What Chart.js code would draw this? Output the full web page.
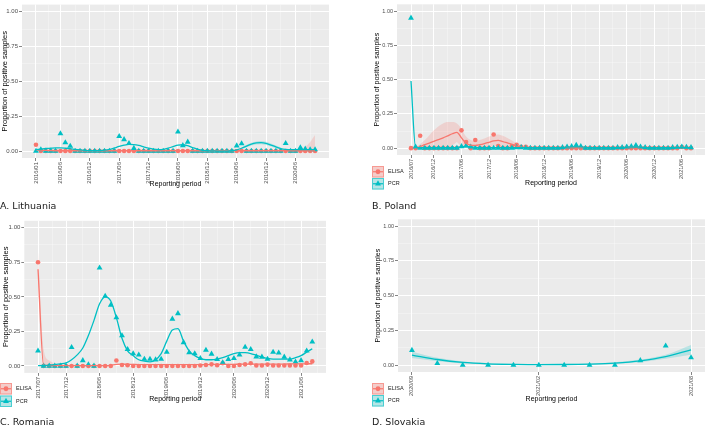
<!DOCTYPE html>
<html>
<head>
<meta charset="utf-8">
<script src="https://cdn.jsdelivr.net/npm/chart.js@4.4.1/dist/chart.umd.min.js"></script>
<style>
    html, body { margin: 0; padding: 0; background: #fff; }
    #wrap { position: relative; width: 709px; height: 430px; overflow: hidden; }
    canvas { position: absolute; }
    .caption {
        position: absolute;
        font-family: "DejaVu Sans", sans-serif;
        font-size: 9.5px;
        line-height: 10px;
        color: #1a1a1a;
        white-space: nowrap;
    }
</style>
</head>
<body>
<div id="wrap">
    <canvas id="chartA" width="355" height="215" style="left:0;top:0"></canvas>
    <canvas id="chartB" width="354" height="215" style="left:355px;top:0"></canvas>
    <canvas id="chartC" width="355" height="215" style="left:0;top:215px"></canvas>
    <canvas id="chartD" width="354" height="215" style="left:355px;top:215px"></canvas>
    <div class="caption" style="left:0;top:201px">A. Lithuania</div>
    <div class="caption" style="left:372px;top:201px">B. Poland</div>
    <div class="caption" style="left:0;top:417px">C. Romania</div>
    <div class="caption" style="left:372px;top:417px">D. Slovakia</div>
</div>
<script>
const RED = '#F8766D';
const TEAL = '#00BFC4';
const FONT = '"Liberation Sans", Arial, sans-serif';
const seriesNames = ['ELISA', 'PCR'];

// A. Lithuania, monthly from 2016/01
const lithuaniaTicks = ['2016/01', '2016/06', '2016/12', '2017/06', '2017/12', '2018/06', '2018/12', '2019/06', '2019/12', '2020/06'];
const lithuaniaElisa = [
    0.045, 0, 0, 0, 0, 0, 0, 0, 0, 0,
    0, 0, 0, 0, 0, 0, 0, 0, 0, 0,
    0, 0, 0, 0, 0, 0, 0, 0, 0, 0,
    0, 0, 0, 0, 0, 0, 0, 0, 0, 0,
    0, 0, 0, 0, 0, 0, 0, 0, 0, 0,
    0, 0, 0, 0, 0, 0, 0, 0];
const lithuaniaPcr = [
    0, 0.01, 0, 0, 0, 0.125, 0.06, 0.035, 0, 0,
    0, 0, 0, 0, 0, 0, 0, 0.105, 0.083, 0.055,
    0.02, 0, 0, 0, 0, 0, 0, 0, 0, 0.138,
    0.04, 0.065, 0, 0, 0, 0, 0, 0, 0, 0,
    0, 0.038, 0.053, 0, 0, 0, 0, 0, 0, 0,
    0, 0.055, 0, 0, 0.025, 0.015, 0.01, 0.01];
const lithuaniaElisaFit = [
    0.008, 0.006, 0.004, 0.003, 0.002, 0.002, 0.002, 0.002, 0.002, 0.002,
    0.002, 0.002, 0.002, 0.002, 0.002, 0.002, 0.002, 0.002, 0.002, 0.002,
    0.002, 0.002, 0.002, 0.002, 0.002, 0.002, 0.002, 0.002, 0.002, 0.002,
    0.002, 0.002, 0.002, 0.002, 0.002, 0.002, 0.002, 0.002, 0.002, 0.002,
    0.002, 0.002, 0.002, 0.002, 0.002, 0.002, 0.002, 0.002, 0.002, 0.002,
    0.002, 0.002, 0.002, 0.002, 0.002, 0.002, 0.002, 0.002];
const lithuaniaPcrFit = [
    0.01, 0.014, 0.018, 0.02, 0.022, 0.022, 0.02, 0.017, 0.012, 0.008,
    0.005, 0.003, 0.002, 0.003, 0.006, 0.012, 0.022, 0.033, 0.042, 0.047,
    0.046, 0.04, 0.03, 0.02, 0.013, 0.01, 0.012, 0.02, 0.032, 0.043,
    0.045, 0.038, 0.025, 0.013, 0.005, 0.002, 0.001, 0, 0, 0,
    0.002, 0.008, 0.02, 0.035, 0.05, 0.058, 0.06, 0.055, 0.043, 0.03,
    0.018, 0.012, 0.01, 0.01, 0.01, 0.01, 0.01, 0.01];
const lithuaniaElisaBand = {start: 53, upper: [0.004, 0.01, 0.03, 0.065, 0.115], lower: [0, 0, 0, 0, 0]};
const lithuaniaPcrBand = {
    start: 41,
    upper: [0.012, 0.026, 0.043, 0.06, 0.069, 0.072, 0.067, 0.054, 0.04, 0.027],
    lower: [0.004, 0.014, 0.027, 0.04, 0.047, 0.048, 0.043, 0.032, 0.02, 0.009]
};

// B. Poland, monthly from 2016/07
const polandTicks = ['2016/07', '2016/12', '2017/06', '2017/12', '2018/06', '2018/12', '2019/06', '2019/12', '2020/06', '2020/12', '2021/06'];
const polandElisa = [
    0, 0, 0.09, 0, 0, 0, 0, 0, 0, 0,
    0, 0.13, 0.045, 0, 0.06, 0, 0, 0, 0.10, 0.016,
    0, 0, 0.016, 0.025, 0.01, 0.01, 0, 0, 0, 0,
    0, 0, 0, 0, 0, 0, 0, 0, 0, 0,
    0, 0, 0, 0, 0, 0, 0, 0, 0, 0,
    0, 0, 0, 0, 0, 0, 0, 0, 0, 0.008,
    0, 0];
const polandPcr = [
    0.95, 0.01, 0, 0, 0, 0, 0, 0, 0, 0,
    0, 0.012, 0.018, 0.01, 0, 0, 0, 0, 0, 0,
    0, 0, 0, 0.005, 0.005, 0, 0, 0, 0, 0,
    0, 0, 0, 0.005, 0.01, 0.012, 0.022, 0.012, 0, 0,
    0, 0, 0, 0, 0, 0.005, 0.005, 0.01, 0.012, 0.02,
    0.01, 0.005, 0, 0, 0, 0, 0, 0.005, 0.008, 0.01,
    0.008, 0.005];
const polandElisaFit = [
    null, 0, 0.012, 0.025, 0.037, 0.05, 0.062, 0.075, 0.09, 0.105,
    0.115, 0.075, 0.035, 0.022, 0.02, 0.025, 0.033, 0.043, 0.053, 0.057,
    0.048, 0.038, 0.028, 0.014, 0.008, 0.006, 0.005, 0.005, 0.005, 0.005,
    0.005, 0.005, 0.005, 0.005, 0.005, 0.005, 0.005, 0.005, 0.005, 0.005,
    0.005, 0.005, 0.005, 0.005, 0.005, 0.005, 0.005, 0.005, 0.005, 0.005,
    0.005, 0.005, 0.005, 0.005, 0.005, 0.005, 0.005, 0.005, 0.005, 0.005,
    0.005, 0.005];
const polandPcrFit = [
    0.49, 0.006, 0.004, 0.004, 0.004, 0.004, 0.004, 0.004, 0.004, 0.004,
    0.006, 0.01, 0.012, 0.01, 0.006, 0.004, 0.004, 0.004, 0.004, 0.004,
    0.004, 0.004, 0.004, 0.004, 0.004, 0.004, 0.004, 0.004, 0.004, 0.004,
    0.004, 0.004, 0.004, 0.005, 0.007, 0.009, 0.01, 0.009, 0.006, 0.004,
    0.004, 0.004, 0.004, 0.004, 0.004, 0.004, 0.005, 0.006, 0.008, 0.008,
    0.006, 0.004, 0.004, 0.004, 0.004, 0.004, 0.004, 0.004, 0.004, 0.004,
    0.004, 0.004];
const polandElisaBand = {
    start: 1,
    upper: [0.005, 0.03, 0.06, 0.095, 0.13, 0.16, 0.18, 0.19, 0.19, 0.18, 0.14, 0.085,
        0.06, 0.055, 0.06, 0.07, 0.085, 0.095, 0.1, 0.09, 0.075, 0.055, 0.035, 0.02],
    lower: [0, 0, 0, 0, 0, 0, 0, 0.005, 0.02, 0.045, 0.01, 0,
        0, 0, 0, 0, 0.005, 0.015, 0.015, 0.005, 0, 0, 0, 0]
};

// C. Romania, monthly from 2017/07
const romaniaTicks = ['2017/07', '2017/12', '2018/06', '2018/12', '2019/06', '2019/12', '2020/06', '2020/12', '2021/06'];
const romaniaElisa = [
    0.75, 0, 0, 0, 0, 0, 0, 0, 0, 0,
    0, 0, 0, 0, 0.04, 0.007, 0.005, 0, 0, 0,
    0, 0, 0, 0, 0, 0, 0, 0, 0, 0.003,
    0.007, 0.012, 0.005, 0.02, 0, 0, 0.007, 0.012, 0.02, 0.003,
    0.003, 0.01, 0.003, 0.003, 0.003, 0.003, 0.003, 0.003, 0.022, 0.033];
const romaniaPcr = [
    0.11, 0, 0, 0, 0, 0, 0.135, 0, 0.04, 0.01,
    0, 0.71, 0.505, 0.44, 0.35, 0.22, 0.12, 0.09, 0.08, 0.05,
    0.05, 0.045, 0.05, 0.10, 0.34, 0.38, 0.17, 0.097, 0.09, 0.055,
    0.115, 0.087, 0.048, 0.025, 0.048, 0.055, 0.08, 0.137, 0.12, 0.067,
    0.065, 0.05, 0.10, 0.095, 0.065, 0.045, 0.03, 0.04, 0.11, 0.175];
const romaniaElisaFit = [
    0.7, 0.005, 0.002, 0.002, 0.002, 0.002, 0.002, 0.002, 0.002, 0.002,
    0.002, 0.002, 0.002, 0.005, 0.012, 0.013, 0.012, 0.011, 0.01, 0.01,
    0.01, 0.01, 0.01, 0.01, 0.01, 0.01, 0.01, 0.01, 0.01, 0.01,
    0.01, 0.011, 0.011, 0.012, 0.012, 0.012, 0.013, 0.013, 0.013, 0.013,
    0.013, 0.013, 0.014, 0.014, 0.014, 0.015, 0.015, 0.015, 0.016, 0.016];
const romaniaPcrFit = [
    0.003, 0.004, 0.006, 0.01, 0.015, 0.022, 0.045, 0.08, 0.13, 0.22,
    0.33, 0.45, 0.5, 0.47, 0.35, 0.2, 0.11, 0.075, 0.045, 0.035,
    0.03, 0.045, 0.09, 0.18, 0.26, 0.27, 0.18, 0.11, 0.075, 0.055,
    0.045, 0.045, 0.05, 0.06, 0.075, 0.09, 0.097, 0.096, 0.09, 0.078,
    0.066, 0.055, 0.05, 0.05, 0.05, 0.05, 0.06, 0.075, 0.1, 0.125];
const romaniaElisaBand = {start: 0, upper: [0.82, 0.12, 0.04, 0.015], lower: [0.58, 0, 0, 0]};

// D. Slovakia, monthly from 2020/09
const slovakiaTicks = ['2020/09', '2021/02', '2021/08'];
const slovakiaElisa = [];
const slovakiaPcr = [0.107, 0.012, 0, 0, 0, 0, 0, 0, 0, 0.033, 0.138, 0.054];
const slovakiaPcrFit = [0.072, 0.04, 0.019, 0.009, 0.005, 0.003, 0.004, 0.007, 0.014, 0.03, 0.06, 0.11];
const slovakiaPcrBand = {
    start: 0,
    upper: [0.095, 0.052, 0.026, 0.014, 0.009, 0.007, 0.008, 0.012, 0.02, 0.04, 0.075, 0.145],
    lower: [0.05, 0.028, 0.012, 0.004, 0.001, 0, 0, 0.002, 0.008, 0.02, 0.045, 0.075]
};

function monthNo(label) {
    const [year, month] = label.split('/').map(Number);
    return year * 12 + month - 1;
}

function toPoints(values, start = 0) {
    return values.map((v, i) => ({x: start + i, y: v}));
}

function pointSet(values, color, shape, radius, order) {
    return {
        data: toPoints(values),
        showLine: false,
        pointStyle: shape,
        pointRadius: radius,
        pointBackgroundColor: color,
        pointBorderColor: color,
        pointBorderWidth: 0,
        order: order
    };
}

function fitSet(values, color, order) {
    return {
        data: toPoints(values),
        borderColor: color,
        borderWidth: 1.3,
        pointRadius: 0,
        cubicInterpolationMode: 'monotone',
        fill: false,
        order: order
    };
}

function bandSets(band, fillColor) {
    const lower = {
        data: toPoints(band.lower, band.start),
        borderWidth: 0,
        pointRadius: 0,
        fill: false,
        order: 10
    };
    const upper = {
        data: toPoints(band.upper, band.start),
        borderWidth: 0,
        pointRadius: 0,
        cubicInterpolationMode: 'monotone',
        backgroundColor: fillColor,
        fill: '-1',
        order: 10
    };
    return [lower, upper];
}

const panelBackground = {
    id: 'panelBackground',
    beforeDraw(chart) {
        const {ctx, chartArea} = chart;
        ctx.save();
        ctx.fillStyle = '#EBEBEB';
        ctx.fillRect(chartArea.left, chartArea.top, chartArea.width, chartArea.height);
        ctx.restore();
    }
};

// ggplot-like legend keys (ribbon box + line + point)
const keyLegend = {
    id: 'keyLegend',
    afterDraw(chart, args, opts) {
        if (!opts || !opts.show) {
            return;
        }
        const ctx = chart.ctx;
        const keys = [
            {label: seriesNames[0], color: RED, fill: 'rgba(248,118,109,0.3)', edge: 'rgba(248,118,109,0.6)', shape: 'circle', radius: 2.4},
            {label: seriesNames[1], color: TEAL, fill: 'rgba(0,191,196,0.25)', edge: 'rgba(0,191,196,0.6)', shape: 'triangle', radius: 3.4}
        ];
        keys.forEach((key, i) => {
            const x = opts.x;
            const y = opts.y + i * opts.step;
            const w = 12;
            const h = 11.5;
            ctx.save();
            ctx.fillStyle = '#F2F2F2';
            ctx.fillRect(x, y, w, h);
            ctx.fillStyle = key.fill;
            ctx.fillRect(x, y, w, h);
            ctx.strokeStyle = key.edge;
            ctx.lineWidth = 1;
            ctx.strokeRect(x + 0.5, y + 0.5, w - 1, h - 1);
            ctx.strokeStyle = key.color;
            ctx.lineWidth = 1.2;
            ctx.beginPath();
            ctx.moveTo(x + 1, y + h / 2);
            ctx.lineTo(x + w - 1, y + h / 2);
            ctx.stroke();
            ctx.fillStyle = key.color;
            Chart.helpers.drawPoint(ctx, {pointStyle: key.shape, radius: key.radius, borderWidth: 0}, x + w / 2, y + h / 2);
            ctx.fillStyle = '#1a1a1a';
            ctx.font = '5.5px ' + FONT;
            ctx.textBaseline = 'middle';
            ctx.fillText(key.label, x + w + 4, y + h / 2);
            ctx.restore();
        });
    }
};

const yTicks = [0, 0.125, 0.25, 0.375, 0.5, 0.625, 0.75, 0.875, 1].map((v, i) => ({value: v, minor: i % 2 === 1}));

function gridStyle() {
    return {
        color: c => (c.tick && c.tick.minor) ? 'rgba(255,255,255,0.6)' : '#FFFFFF',
        lineWidth: c => (c.tick && c.tick.minor) ? 0.5 : 1,
        tickLength: 3,
        tickWidth: 0.6,
        tickColor: c => (c.tick && c.tick.minor) ? 'rgba(0,0,0,0)' : '#333333'
    };
}

function drawPanel(canvasId, p) {
    const n = p.pcr.length;
    const first = monthNo(p.ticks[0]);
    const majors = p.ticks.map(t => ({value: monthNo(t) - first, name: t}));
    const minors = majors.map((m, i) => {
        const next = majors[i + 1] ? majors[i + 1].value : m.value + 6;
        return {value: (m.value + next) / 2, minor: true};
    });
    const xMin = -0.05 * (n - 1);
    const xMax = 1.05 * (n - 1);
    const xTicks = majors.concat(minors)
        .filter(t => t.value >= xMin && t.value <= xMax)
        .sort((a, b) => a.value - b.value);

    const datasets = [
        fitSet(p.pcrFit, TEAL, 0),
        pointSet(p.pcr, TEAL, 'triangle', 3.4, 2),
        pointSet(p.elisa, RED, 'circle', 2.3, 3)
    ];
    if (p.elisaFit) {
        datasets.push(fitSet(p.elisaFit, RED, 1));
    }
    (p.bands || []).forEach(b => datasets.push(...bandSets(b.band, b.fill)));

    return new Chart(document.getElementById(canvasId), {
        type: 'line',
        data: {datasets: datasets},
        options: {
            responsive: false,
            animation: false,
            events: [],
            spanGaps: false,
            layout: {padding: p.padding},
            plugins: {
                legend: {display: false},
                tooltip: {enabled: false},
                keyLegend: p.legend || {show: false}
            },
            scales: {
                x: {
                    type: 'linear',
                    min: xMin,
                    max: xMax,
                    afterBuildTicks: s => { s.ticks = xTicks.map(t => ({...t})); },
                    afterFit: s => { s.height = p.xHeight; },
                    grid: gridStyle(),
                    border: {display: false},
                    ticks: {
                        autoSkip: false,
                        minRotation: 90,
                        maxRotation: 90,
                        padding: 1,
                        color: '#4D4D4D',
                        font: {family: FONT, size: p.tickSize},
                        callback: (value, index, ticks) => ticks[index].name || ''
                    },
                    title: {
                        display: true,
                        text: 'Reporting period',
                        color: '#000',
                        padding: 0,
                        font: {family: FONT, size: 7}
                    }
                },
                y: {
                    type: 'linear',
                    min: -0.05,
                    max: 1.05,
                    afterBuildTicks: s => { s.ticks = yTicks.map(t => ({...t})); },
                    afterFit: s => { s.width = p.yWidth; },
                    grid: gridStyle(),
                    border: {display: false},
                    ticks: {
                        padding: 1,
                        color: '#4D4D4D',
                        font: {family: FONT, size: p.tickSize},
                        callback: (value, index, ticks) => ticks[index].minor ? '' : value.toFixed(2)
                    },
                    title: {
                        display: true,
                        text: 'Proportion of positive samples',
                        color: '#000',
                        padding: 0,
                        font: {family: FONT, size: p.yTitleSize}
                    }
                }
            }
        },
        plugins: [panelBackground, keyLegend]
    });
}

const redBand = 'rgba(248,118,109,0.22)';
const tealBand = 'rgba(0,191,196,0.22)';

drawPanel('chartA', {
    ticks: lithuaniaTicks, elisa: lithuaniaElisa, pcr: lithuaniaPcr,
    elisaFit: lithuaniaElisaFit, pcrFit: lithuaniaPcrFit,
    bands: [{band: lithuaniaElisaBand, fill: redBand}, {band: lithuaniaPcrBand, fill: tealBand}],
    padding: {left: 0, right: 26, top: 3, bottom: 26.5},
    yWidth: 22, xHeight: 30.5, tickSize: 6, yTitleSize: 7.5
});

drawPanel('chartB', {
    ticks: polandTicks, elisa: polandElisa, pcr: polandPcr,
    elisaFit: polandElisaFit, pcrFit: polandPcrFit,
    bands: [{band: polandElisaBand, fill: redBand}],
    padding: {left: 18, right: 3, top: 0, bottom: 27.8},
    yWidth: 24, xHeight: 32.2, tickSize: 5.5, yTitleSize: 7,
    legend: {show: true, x: 17, y: 166, step: 12}
});

drawPanel('chartC', {
    ticks: romaniaTicks, elisa: romaniaElisa, pcr: romaniaPcr,
    elisaFit: romaniaElisaFit, pcrFit: romaniaPcrFit,
    bands: [{band: romaniaElisaBand, fill: redBand}],
    padding: {left: 1, right: 29, top: 5.8, bottom: 26.8},
    yWidth: 23.3, xHeight: 30.3, tickSize: 6, yTitleSize: 7.5,
    legend: {show: true, x: 0, y: 168, step: 12.5}
});

drawPanel('chartD', {
    ticks: slovakiaTicks, elisa: slovakiaElisa, pcr: slovakiaPcr,
    elisaFit: null, pcrFit: slovakiaPcrFit,
    bands: [{band: slovakiaPcrBand, fill: tealBand}],
    padding: {left: 19, right: 1, top: 0, bottom: 26.8},
    yWidth: 24, xHeight: 31.2, tickSize: 5.5, yTitleSize: 7,
    legend: {show: true, x: 17, y: 168, step: 12}
});
</script>
</body>
</html>
